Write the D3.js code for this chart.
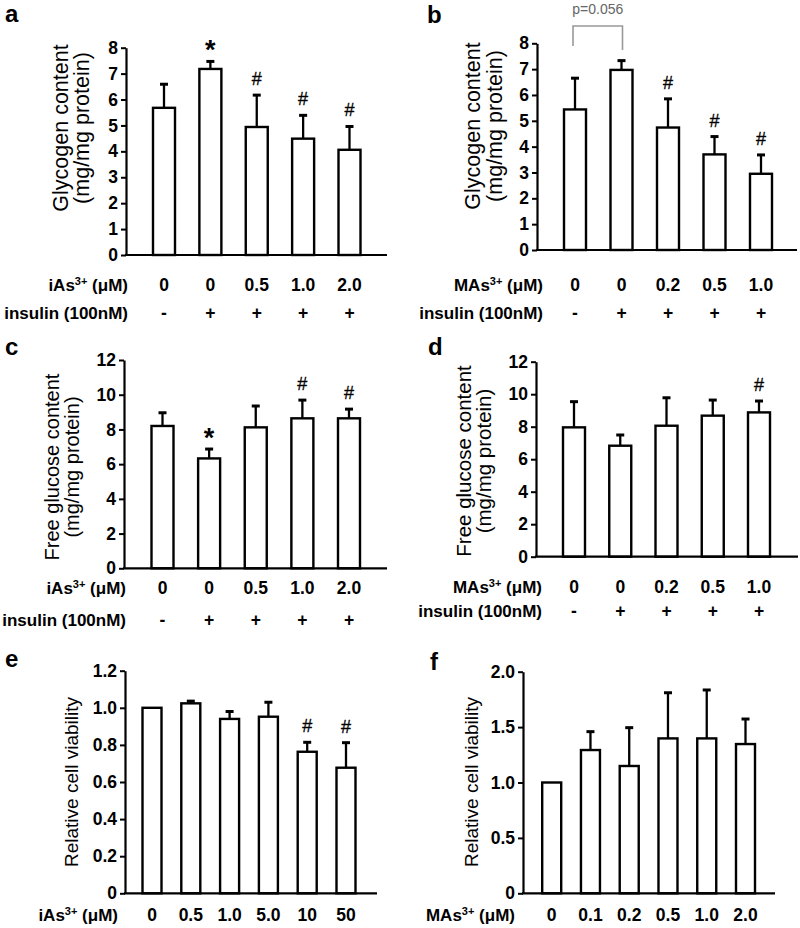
<!DOCTYPE html>
<html>
<head>
<meta charset="utf-8">
<script src="https://cdn.jsdelivr.net/npm/d3@7"></script>
<style>
  html, body { margin: 0; padding: 0; background: #fff; }
  svg { display: block; }
</style>
</head>
<body>
<svg id="chart" width="800" height="928"></svg>
<script>
// ---------------- DATA ----------------
// Panel a: glycogen, iAs3+
const aDose    = ["0", "0", "0.5", "1.0", "2.0"];
const aInsulin = ["-", "+", "+", "+", "+"];
const aMean    = [5.68, 7.18, 4.94, 4.49, 4.06];
const aErr     = [0.91, 0.29, 1.23, 0.90, 0.90];
const aMarks   = ["", "*", "#", "#", "#"];
const aTicks   = [0, 1, 2, 3, 4, 5, 6, 7, 8];

// Panel b: glycogen, MAs3+
const bDose    = ["0", "0", "0.2", "0.5", "1.0"];
const bInsulin = ["-", "+", "+", "+", "+"];
const bMean    = [5.44, 6.97, 4.74, 3.70, 2.95];
const bErr     = [1.21, 0.36, 1.11, 0.69, 0.73];
const bMarks   = ["", "", "#", "#", "#"];
const bTicks   = [0, 1, 2, 3, 4, 5, 6, 7, 8];
const bPText   = "p=0.056";

// Panel c: free glucose, iAs3+
const cDose    = ["0", "0", "0.5", "1.0", "2.0"];
const cInsulin = ["-", "+", "+", "+", "+"];
const cMean    = [8.20, 6.33, 8.12, 8.64, 8.64];
const cErr     = [0.76, 0.54, 1.23, 1.05, 0.53];
const cMarks   = ["", "*", "", "#", "#"];
const cTicks   = [0, 2, 4, 6, 8, 10, 12];

// Panel d: free glucose, MAs3+
const dDose    = ["0", "0", "0.2", "0.5", "1.0"];
const dInsulin = ["-", "+", "+", "+", "+"];
const dMean    = [7.96, 6.83, 8.06, 8.68, 8.88];
const dErr     = [1.58, 0.66, 1.72, 0.96, 0.70];
const dMarks   = ["", "", "", "", "#"];
const dTicks   = [0, 2, 4, 6, 8, 10, 12];

// Panel e: viability, iAs3+
const eDose    = ["0", "0.5", "1.0", "5.0", "10", "50"];
const eMean    = [1.00, 1.024, 0.94, 0.952, 0.763, 0.677];
const eErr     = [0, 0.012, 0.04, 0.078, 0.051, 0.135];
const eMarks   = ["", "", "", "", "#", "#"];
const eTicks   = [0, 0.2, 0.4, 0.6, 0.8, 1.0, 1.2];

// Panel f: viability, MAs3+
const fDose    = ["0", "0.1", "0.2", "0.5", "1.0", "2.0"];
const fMean    = [1.00, 1.293, 1.149, 1.398, 1.398, 1.347];
const fErr     = [0, 0.166, 0.346, 0.412, 0.437, 0.226];
const fMarks   = ["", "", "", "", "", ""];
const fTicks   = [0, 0.5, 1.0, 1.5, 2.0];

const glyTitle  = ["Glycogen content", "(mg/mg protein)"];
const gluTitle  = ["Free glucose content", "(mg/mg protein)"];
const viaTitle  = ["Relative cell viability"];

// ---------------- LAYOUT ----------------
const FONT = "'Liberation Sans', Arial, Helvetica, sans-serif";
const svg = d3.select("#chart");

const panels = [
  { letter: "a", lx: 5, ly: 22, agent: "iAs", dose: aDose, insulin: aInsulin, mean: aMean, err: aErr, marks: aMarks, ticks: aTicks, title: glyTitle,
    g: { yAxisX: 126, yZero: 255, yTop: 47.7, xEnd: 387, c0: 164, c1: 349.5, barW: 22, rowY: [285, 313], labelRight: 128, titleX: [62, 83], titleY: 128, titleSize: 21.5 } },
  { letter: "b", lx: 427, ly: 23, agent: "MAs", dose: bDose, insulin: bInsulin, mean: bMean, err: bErr, marks: bMarks, ticks: bTicks, title: glyTitle,
    g: { yAxisX: 537, yZero: 250, yTop: 43.3, xEnd: 797, c0: 575, c1: 761, barW: 22, rowY: [285, 313], labelRight: 543, titleX: [474, 496], titleY: 126, titleSize: 21.5 } },
  { letter: "c", lx: 5, ly: 355, agent: "iAs", dose: cDose, insulin: cInsulin, mean: cMean, err: cErr, marks: cMarks, ticks: cTicks, title: gluTitle,
    g: { yAxisX: 124, yZero: 568.3, yTop: 360, xEnd: 387, c0: 162.5, c1: 349, barW: 22, rowY: [588, 620], labelRight: 126, titleX: [53, 73], titleY: 467, titleSize: 20 } },
  { letter: "d", lx: 428, ly: 355, agent: "MAs", dose: dDose, insulin: dInsulin, mean: dMean, err: dErr, marks: dMarks, ticks: dTicks, title: gluTitle,
    g: { yAxisX: 536, yZero: 556.7, yTop: 361.7, xEnd: 798, c0: 574, c1: 759, barW: 22, rowY: [587, 611], labelRight: 542, titleX: [465, 485], titleY: 461, titleSize: 20.5 } },
  { letter: "e", lx: 5, ly: 667, agent: "iAs", dose: eDose, insulin: null, mean: eMean, err: eErr, marks: eMarks, ticks: eTicks, title: viaTitle,
    g: { yAxisX: 125, yZero: 893.3, yTop: 670.7, xEnd: 377, c0: 152, c1: 346, barW: 19, rowY: [915], labelRight: 118, titleX: [72], titleY: 782, titleSize: 19 } },
  { letter: "f", lx: 430, ly: 670, agent: "MAs", dose: fDose, insulin: null, mean: fMean, err: fErr, marks: fMarks, ticks: fTicks, title: viaTitle,
    g: { yAxisX: 523, yZero: 893.3, yTop: 671.7, xEnd: 775, c0: 551.7, c1: 745.5, barW: 19, rowY: [915], labelRight: 515, titleX: [472], titleY: 782, titleSize: 19 } }
];

function fmtTick(ticks) {
  const decimal = ticks.some(t => !Number.isInteger(t));
  return d => d === 0 ? "0" : (decimal ? d.toFixed(1) : String(d));
}

function drawPanel(p) {
  const g = p.g;
  const n = p.mean.length;
  const idx = d3.range(n);
  const yMax = d3.max(p.ticks);
  const y = d3.scaleLinear().domain([0, yMax]).range([g.yZero, g.yTop]);
  const x = d3.scalePoint().domain(idx).range([g.c0, g.c1]);
  const root = svg.append("g");

  // panel letter
  root.append("text").attr("x", p.lx).attr("y", p.ly)
    .attr("font-family", FONT).attr("font-weight", "bold").attr("font-size", 24)
    .text(p.letter);

  // bars
  root.selectAll("rect.bar").data(idx).enter().append("rect")
    .attr("class", "bar")
    .attr("x", i => x(i) - g.barW / 2)
    .attr("y", i => y(p.mean[i]))
    .attr("width", g.barW)
    .attr("height", i => y(0) - y(p.mean[i]))
    .attr("fill", "#fff").attr("stroke", "#000").attr("stroke-width", 2.4);

  // error bars
  const errIdx = idx.filter(i => p.err[i] > 0);
  root.selectAll("line.err").data(errIdx).enter().append("line")
    .attr("x1", i => x(i)).attr("x2", i => x(i))
    .attr("y1", i => y(p.mean[i])).attr("y2", i => y(p.mean[i] + p.err[i]))
    .attr("stroke", "#000").attr("stroke-width", 2.3);
  root.selectAll("line.cap").data(errIdx).enter().append("line")
    .attr("x1", i => x(i) - 4).attr("x2", i => x(i) + 4)
    .attr("y1", i => y(p.mean[i] + p.err[i])).attr("y2", i => y(p.mean[i] + p.err[i]))
    .attr("stroke", "#000").attr("stroke-width", 3);

  // significance marks
  idx.filter(i => p.marks[i]).forEach(i => {
    const top = y(p.mean[i] + p.err[i]);
    const star = p.marks[i] === "*";
    root.append("text")
      .attr("x", x(i)).attr("y", star ? top - 2 : top - 10)
      .attr("text-anchor", "middle")
      .attr("font-family", FONT)
      .attr("font-weight", star ? "bold" : "normal")
      .attr("font-size", star ? 27 : 18)
      .attr("stroke", star ? "none" : "#000").attr("stroke-width", star ? 0 : 0.3)
      .text(p.marks[i]);
  });

  // y axis
  const axis = d3.axisLeft(y).tickValues(p.ticks).tickSizeInner(5).tickSizeOuter(0).tickPadding(3)
    .tickFormat(fmtTick(p.ticks));
  const ag = root.append("g").attr("transform", `translate(${g.yAxisX},0)`).call(axis);
  ag.select(".domain").attr("stroke-width", 2.2);
  ag.selectAll(".tick line").attr("stroke-width", 2);
  ag.selectAll(".tick text").attr("font-family", FONT).attr("font-weight", "bold").attr("font-size", 17.5).attr("fill", "#000");

  // x axis baseline
  root.append("line").attr("x1", g.yAxisX - 1).attr("x2", g.xEnd)
    .attr("y1", y(0)).attr("y2", y(0))
    .attr("stroke", "#000").attr("stroke-width", 2.2);

  // y title
  const tt = root.append("g");
  p.title.forEach((line, k) => {
    tt.append("text")
      .attr("transform", `translate(${g.titleX[k] + 6},${g.titleY}) rotate(-90)`)
      .attr("text-anchor", "middle")
      .attr("font-family", FONT).attr("font-size", g.titleSize)
      .text(line);
  });

  // row 1: dose
  const r1 = g.rowY[0] + 6;
  const lab = root.append("text").attr("x", g.labelRight).attr("y", r1)
    .attr("text-anchor", "end").attr("font-family", FONT).attr("font-weight", "bold").attr("font-size", 17);
  lab.append("tspan").text(p.agent);
  lab.append("tspan").attr("font-size", 11).attr("dy", -6).text("3+");
  lab.append("tspan").attr("dy", 6).text(" (\u03bcM)");
  root.selectAll("text.dose").data(idx).enter().append("text")
    .attr("x", i => x(i)).attr("y", r1).attr("text-anchor", "middle")
    .attr("font-family", FONT).attr("font-weight", "bold").attr("font-size", 17.5)
    .text(i => p.dose[i]);

  // row 2: insulin
  if (p.insulin) {
    const r2 = g.rowY[1] + 6;
    root.append("text").attr("x", g.labelRight).attr("y", r2)
      .attr("text-anchor", "end").attr("font-family", FONT).attr("font-weight", "bold").attr("font-size", 17)
      .text("insulin (100nM)");
    root.selectAll("text.ins").data(idx).enter().append("text")
      .attr("x", i => x(i)).attr("y", r2).attr("text-anchor", "middle")
      .attr("font-family", FONT).attr("font-weight", "bold").attr("font-size", 17.5)
      .text(i => p.insulin[i]);
  }
  return { x, y, root };
}

const drawn = panels.map(drawPanel);

// p-value bracket in panel b
(function () {
  const { x, root } = drawn[1];
  const top = 26;
  const xl = x(0) - 2, xr = x(1) + 1;
  root.append("path")
    .attr("d", `M${xl},46 L${xl},${top} L${xr},${top} L${xr},50`)
    .attr("fill", "none").attr("stroke", "#999").attr("stroke-width", 1.6);
  root.append("text").attr("x", (xl + xr) / 2).attr("y", 14)
    .attr("text-anchor", "middle").attr("font-family", FONT).attr("font-size", 14).attr("fill", "#666")
    .text(bPText);
})();
</script>
</body>
</html>
